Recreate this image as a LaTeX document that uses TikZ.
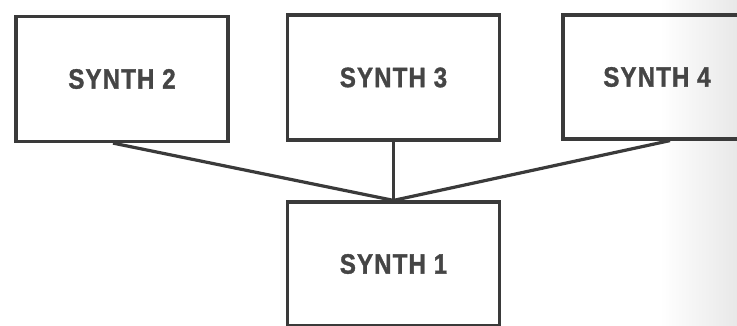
\documentclass[tikz,border=0pt]{standalone}
\usepackage{fontspec}
\newfontfamily\synthfont{Liberation Sans Bold}[FakeStretch=0.86, FakeBold=1.2, LetterSpace=4]
\usetikzlibrary{calc}
\definecolor{ink}{HTML}{3A3A3A}
\definecolor{txt}{HTML}{454545}
\begin{document}
\begin{tikzpicture}[x=1pt,y=-1pt,
  synthbox/.style={draw=ink, line width=3.2pt, minimum width=212pt, minimum height=125pt,
    inner sep=0pt, font=\synthfont\fontsize{28}{30}\selectfont, text=txt},
  wire/.style={draw=ink, line width=3.2pt}]
\clip (0,0) rectangle (737,326);
\fill[white] (0,0) rectangle (737,326);
\shade[left color=white, right color=black!9] (660,0) rectangle (737,326);
\node[synthbox] (s2) at (122,79) {SYNTH 2};
\node[synthbox] (s3) at (393.5,77.5) {SYNTH 3};
\node[synthbox, minimum width=188pt, minimum height=124pt] (s4) at (657,77) {SYNTH 4};
\node[synthbox, minimum height=124pt] (s1) at (393.5,264) {SYNTH 1};
\coordinate (j) at (s1.north);
\draw[wire] ([xshift=-9pt]s2.south) -- (j);
\draw[wire] (s3.south) -- (j);
\draw[wire] ([xshift=13pt]s4.south) -- (j);
\end{tikzpicture}
\end{document}
